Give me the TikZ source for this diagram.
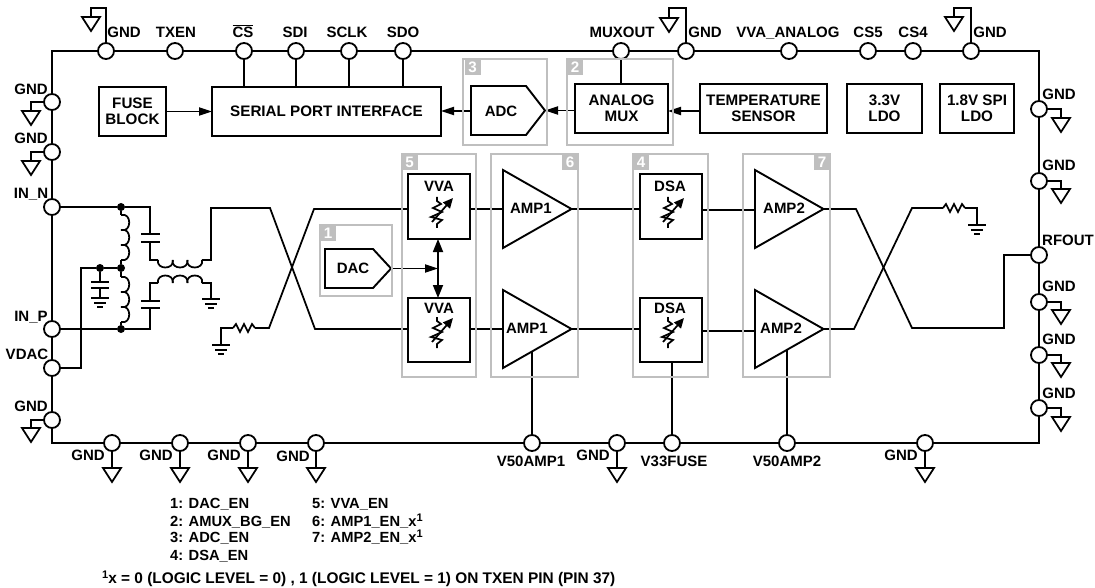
\documentclass[tikz,border=0pt]{standalone}
\usepackage{fontspec}
\setmainfont{Liberation Sans}
\usepackage{xcolor}
\usetikzlibrary{positioning, calc, arrows.meta}

\definecolor{zonegray}{HTML}{BFBFBF}
\newcommand{\supone}{\raisebox{5.5pt}{\fontsize{11}{11}\selectfont 1}}

\tikzset{
  wire/.style={line width=1.75pt, line join=miter},
  feed/.style={wire, -{Triangle[length=13pt,width=8pt]}},
  framebox/.style={draw, line width=2.3pt, inner sep=0pt, outer sep=0pt},
  pinnode/.style={draw, circle, fill=white, line width=1.8pt, minimum size=16pt, inner sep=0pt},
  dotnode/.style={circle, fill=black, minimum size=8pt, inner sep=0pt},
  pintext/.style={font=\bfseries\fontsize{15}{15.5}\selectfont, inner sep=0pt, text height=11pt, text depth=0pt},
  listtext/.style={pintext, anchor=west, font=\bfseries\fontsize{14.7}{15.5}\selectfont},
  blockbox/.style={draw, line width=1.9pt, inner sep=0pt, outer sep=0pt, align=center, font=\bfseries\fontsize{15.2}{15.5}\selectfont},
  blockline/.style={line width=1.9pt, line join=miter},
  zonebox/.style={draw=zonegray, line width=1.5pt},
  zonetag/.style={fill=zonegray, text=white, font=\bfseries\fontsize{15.2}{15.2}\selectfont, minimum size=16pt, inner sep=0pt},
  opengnd/.pic={\draw[wire] (-9,0) -- (9,0) -- (0,14) -- cycle;},
  earth/.pic={
    \draw[wire] (-9,0) -- (9,0);
    \draw[wire] (-6,5) -- (6,5);
    \draw[wire] (-3,9) -- (3,9);
  },
  zigres/.pic={\draw[wire] (0,0) -- (3,-4) -- (7,4) -- (11,-4) -- (15,4) -- (19,-4) -- (22,0);},
  varres/.pic={
    \draw[wire] (0,-15) -- (0,-11) -- (4,-8) -- (-4,-4) -- (5,0) -- (-6,5) -- (5,8) -- (0,12) -- (0,16);
    \draw[wire, -{Triangle[length=10pt,width=9pt]}] (-5,10) -- (16,-14);
  },
  coildown/.pic={
    \foreach \k in {0,1,2}
      \draw[wire] (0,\k*15) .. controls (11,\k*15-3) and (11,\k*15+18) .. (0,\k*15+15);
  },
  coilup/.pic={
    \foreach \k in {0,1,2}
      \draw[wire] (\k*14.7,0) .. controls (\k*14.7-2,-10) and (\k*14.7+16.7,-10) .. (\k*14.7+14.7,0);
  },
  coillow/.pic={
    \foreach \k in {0,1,2}
      \draw[wire] (\k*14.7,0) .. controls (\k*14.7-2,10) and (\k*14.7+16.7,10) .. (\k*14.7+14.7,0);
  }
}

\begin{document}
\begin{tikzpicture}[x=1pt, y=-1pt]
  \useasboundingbox (0,0) rectangle (1095,588);

  \node[framebox, minimum width=987pt, minimum height=392pt] (chip) at (545.5,247) {};

  % pins on the package edge
  \foreach \pinname/\px/\py in {gndTa/106/51, txen/175/51, csb/244/51, sdi/296/51, sclk/349/51, sdo/403/51,
      muxout/621/51, gndTb/686/51, vvaan/789/51, csfive/868/51, csfour/913/51, gndTc/971/51,
      gndLa/52/102, gndLb/52/152, inn/52/207, inp/52/329, vdac/52/368, gndLc/52/420,
      gndRa/1039/109, gndRb/1039/181, rfout/1039/255, gndRc/1039/302, gndRd/1039/355, gndRe/1039/408,
      gndBa/112/443, gndBb/180/443, gndBc/248/443, gndBd/316/443, vampa/532/443, gndBe/617/443,
      vfuse/672/443, vampb/787/443, gndBf/925/443} {
    \node[pinnode] (\pinname) at (\px,\py) {};
  }

  % pin labels
  \foreach \lname/\lx/\ly/\txt in {a/124/32/GND, b/176/32/TXEN, c/243/32/{$\overline{\mbox{CS}}$}, d/295/32/SDI, e/347/32/SCLK, f/403/32/SDO,
      g/622/32/MUXOUT, h/705/32/GND, i/788/32/{VVA\_ANALOG}, j/868/32/CS5, k/913/32/CS4, l/990/32/GND,
      m/31/89/GND, n/31/138/GND, o/31/193/{IN\_N}, p/31/316/{IN\_P}, q/27/354/VDAC, r/31/406/GND,
      s/1059/94/GND, t/1059/165/GND, u/1068/240/RFOUT, v/1059/286/GND, w/1059/339/GND, x/1059/393/GND,
      y/88/455/GND, z/156/455/GND, aa/224/455/GND, ab/293/456/GND, ac/531/461/V50AMP1, ad/593/455/GND,
      ae/674/461/V33FUSE, af/787/461/V50AMP2, ag/901/455/GND} {
    \node[pintext] (lbl\lname) at (\lx,\ly) {\txt};
  }

  % ground symbols on the pins
  \foreach \pinname/\tx/\ty in {gndTa/91/17, gndTb/669/18, gndTc/954/17} {
    \coordinate (\pinname tri) at (\tx,\ty);
    \draw[wire] (\pinname) |- (\tx,8) -- (\pinname tri);
    \pic at (\pinname tri) {opengnd};
  }
  \foreach \pinname/\tx/\ty in {gndLa/31/111, gndLb/31/161, gndLc/31/428,
      gndRa/1061/118, gndRb/1061/189, gndRc/1061/310, gndRd/1061/363, gndRe/1061/417} {
    \coordinate (\pinname tri) at (\tx,\ty);
    \draw[wire] (\pinname) -| (\pinname tri);
    \pic at (\pinname tri) {opengnd};
  }
  \foreach \pinname/\tx in {gndBa/112, gndBb/180, gndBc/248, gndBd/316, gndBe/617, gndBf/925} {
    \coordinate (\pinname tri) at (\tx,468);
    \draw[wire] (\pinname) -- (\pinname tri);
    \pic at (\pinname tri) {opengnd};
  }

  % top row blocks
  \foreach \bname/\bx/\by/\bw/\bh/\txt in {fuse/132.5/111.5/67/49/{FUSE\\BLOCK}, spi/326.5/111.5/229/49/{SERIAL PORT INTERFACE},
      amux/621.5/108.5/93/49/{ANALOG\\MUX}, temp/763.5/108.5/127/49/{TEMPERATURE\\SENSOR},
      ldoa/884.5/108.5/75/49/{3.3V\\LDO}, ldob/977/108.5/74/49/{1.8V SPI\\LDO},
      vvaU/439/206.5/62/65/{}, vvaL/439/330/62/64/{}, dsaU/671/206.5/62/65/{}, dsaL/671/330/62/64/{}} {
    \node[blockbox, minimum width=\bw pt, minimum height=\bh pt] (\bname) at (\bx,\by) {\txt};
  }

  \draw[blockline] (471,86) -- (526,86) -- (545,110.5) -- (526,135) -- (471,135) -- cycle;
  \node[pintext] (adctxt) at (501,111) {ADC};
  \coordinate (adcW) at (471,111);
  \coordinate (adcTip) at (545,110.5);

  \draw[blockline] (325,249) -- (373,249) -- (391,268.5) -- (373,288) -- (325,288) -- cycle;
  \node[pintext] (dactxt) at (353,268) {DAC};
  \coordinate (dacTip) at (391,268.5);

  \draw[feed] (fuse) -- (spi);
  \draw[feed] (adcW) -- (adcW -| spi.east);
  \draw[feed] (adcTip -| amux.west) -- (adcTip);
  \draw[feed] (temp.west |- 0,111) -- (amux.east |- 0,111);

  \foreach \pinname in {csb, sdi, sclk, sdo} {
    \draw[wire] (\pinname) -- (\pinname |- spi.north);
  }
  \draw[wire] (muxout) -- (muxout |- amux.north);

  % VVA and DSA
  \foreach \vname/\vx/\vy/\ty/\txt in {vvaU/437/212/186/VVA, vvaL/437/332/308/VVA, dsaU/668/212/186/DSA, dsaL/668/332/308/DSA} {
    \node[pintext] (\vname txt) at (\vx+2,\ty) {\txt};
    \pic at (\vx,\vy) {varres};
  }

  % amplifiers
  \foreach \ampname/\ax/\ay/\ltx/\txt in {ampaU/503/209/531/AMP1, ampaL/503/329/527/AMP1, ampbU/755/209/784/AMP2, ampbL/755/329/781/AMP2} {
    \draw[blockline] (\ax,\ay-39) -- (\ax,\ay+39) -- (\ax+68.5,\ay) -- cycle;
    \coordinate (\ampname in) at (\ax,\ay);
    \coordinate (\ampname tip) at (\ax+68.5,\ay);
    \node[pintext] (\ampname txt) at (\ltx,\ay-1) {\txt};
  }

  \draw[wire] (vvaU.east |- ampaUin) -- (ampaUin);
  \draw[wire] (vvaL.east |- ampaLin) -- (ampaLin);
  \draw[wire] (ampaUtip) -- (ampaUtip -| dsaU.west);
  \draw[wire] (ampaLtip) -- (ampaLtip -| dsaL.west);
  \draw[wire] (dsaU.east |- 0,210) -- (ampbUin |- 0,210);
  \draw[wire] (dsaL.east |- 0,331) -- (ampbLin |- 0,331);

  \coordinate (vvaMid) at (438,268.5);
  \draw[wire, {Triangle[length=13pt,width=10pt]}-{Triangle[length=13pt,width=10pt]}] (vvaU.south -| vvaMid) -- (vvaL.north -| vvaMid);
  \draw[wire, -{Triangle[length=13pt,width=8pt]}] (dacTip) -- (vvaMid);

  % supply pins
  \coordinate (ampaLfoot) at (532,351);
  \coordinate (ampbLfoot) at (787,350);
  \draw[wire] (vampa) -- (ampaLfoot);
  \draw[wire] (vfuse) -- (vfuse |- dsaL.south);
  \draw[wire] (vampb) -- (ampbLfoot);

  % input network
  \node[dotnode] (dotN) at (121,207) {};
  \node[dotnode] (dotM) at (121,268) {};
  \node[dotnode] (dotP) at (121,329) {};
  \node[dotnode] (dotC) at (100,268) {};
  \coordinate (capTop) at (150,207);
  \coordinate (capBot) at (150,329);
  \draw[wire] (inn) -- (dotN) -- (capTop) -- (150,234);
  \draw[wire] (inp) -- (dotP) -- (capBot) -- (150,308);
  \draw[wire] (141,234) -- (160,234) (141,242) -- (160,242);
  \draw[wire] (141,301) -- (160,301) (141,308) -- (160,308);
  \draw[wire] (150,242) -- (150,260) -- (158,260);
  \draw[wire] (150,301) -- (150,283) -- (158,283);
  \pic at (158,260) {coillow};
  \pic at (158,283) {coilup};
  \draw[wire] (202,260) -- (211,260) -- (211,208) -- (270,208) -- (315,329) -- (vvaL.west |- ampaLin);
  \draw[wire] (202,283) -- (211,283) -- (211,299);
  \pic at (211,299) {earth};
  \draw[wire] (dotN) -- (121,215);
  \pic at (121,215) {coildown};
  \draw[wire] (121,260) -- (dotM) -- (121,277);
  \pic at (121,277) {coildown};
  \draw[wire] (121,322) -- (dotP);
  \draw[wire] (vdac) -| (81,268) -- (dotC) -- (dotM);
  \draw[wire] (dotC) -- (100,282);
  \draw[wire] (91,282) -- (109,282) (91,288) -- (109,288);
  \draw[wire] (100,288) -- (100,298);
  \pic at (100,298) {earth};

  \pic at (221,345) {earth};
  \draw[wire] (221,345) -- (221,328) -- (233,328);
  \pic at (233,328) {zigres};
  \draw[wire] (255,328) -- (269,328) -- (314,209) -- (vvaU.west |- ampaUin);

  % output network
  \draw[wire] (ampbUtip) -- (856,209) -- (912,328) -- (1004,328) -- (1004,255) -- (rfout);
  \draw[wire] (ampbLtip) -- (854,329) -- (912,208) -- (943,208);
  \pic at (943,208) {zigres};
  \draw[wire] (965,208) -- (977,208) -- (977,225);
  \pic at (977,225) {earth};

  % enable zones
  \foreach \zname/\zx/\zy/\zX/\zY/\tagx/\tagy/\num in {zoneb/567/59/673/145/575/67/2, zonec/463/59/547/145/472.5/67/3,
      zonee/402/154/476/377/409.5/162/5, zonef/491/154/578/377/570/162/6, zonea/320/225/392/296/328/233/1,
      zoned/633/154/708/377/641/162/4, zoneg/743/154/830/377/822/162/7} {
    \draw[zonebox] (\zx,\zy) rectangle (\zX,\zY);
    \node[zonetag] (\zname tag) at (\tagx,\tagy) {\num};
  }

  % enable list
  \foreach \lname/\lx/\ly/\txt in {la/170/503/{1: DAC\_EN}, lb/170/521/{2: AMUX\_BG\_EN}, lc/170/537/{3: ADC\_EN}, ld/170/555/{4: DSA\_EN},
      le/312/503/{5: VVA\_EN}, lf/312/521/{6: AMP1\_EN\_x\supone}, lg/312/537/{7: AMP2\_EN\_x\supone}} {
    \node[listtext] (\lname) at (\lx,\ly) {\txt};
  }
  \node[listtext, font=\bfseries\fontsize{15.4}{15.5}\selectfont] (footnote) at (102,578) {\supone x = 0 (LOGIC LEVEL = 0) , 1 (LOGIC LEVEL = 1) ON TXEN PIN (PIN 37)};
\end{tikzpicture}
\end{document}
